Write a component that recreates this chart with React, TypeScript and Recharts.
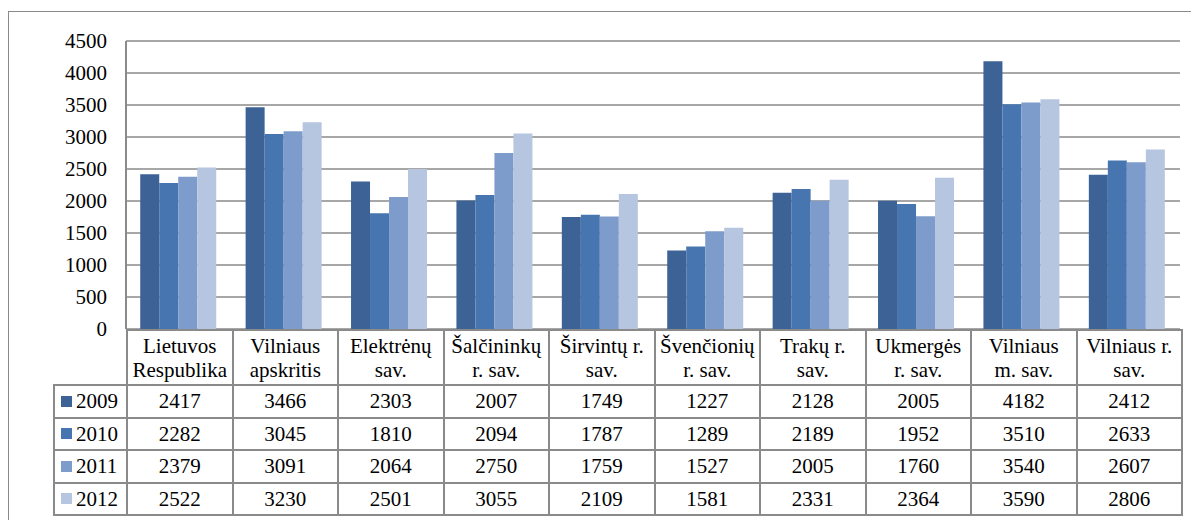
import { BarChart, Bar, XAxis, YAxis, CartesianGrid } from 'recharts';

// Kategorijos (savivaldybės) ir metų reikšmės
const categories = [
  'Lietuvos\nRespublika',
  'Vilniaus\napskritis',
  'Elektrėnų\nsav.',
  'Šalčininkų\nr. sav.',
  'Širvintų r.\nsav.',
  'Švenčionių\nr. sav.',
  'Trakų r.\nsav.',
  'Ukmergės\nr. sav.',
  'Vilniaus\nm. sav.',
  'Vilniaus r.\nsav.',
];
const years = ['2009', '2010', '2011', '2012'];
const values2009 = [2417, 3466, 2303, 2007, 1749, 1227, 2128, 2005, 4182, 2412];
const values2010 = [2282, 3045, 1810, 2094, 1787, 1289, 2189, 1952, 3510, 2633];
const values2011 = [2379, 3091, 2064, 2750, 1759, 1527, 2005, 1760, 3540, 2607];
const values2012 = [2522, 3230, 2501, 3055, 2109, 1581, 2331, 2364, 3590, 2806];
const yTicks = [0, 500, 1000, 1500, 2000, 2500, 3000, 3500, 4000, 4500];

const seriesValues = [values2009, values2010, values2011, values2012];
const COLORS = ['#3c6296', '#4675b0', '#7e9ccb', '#b6c5e0'];

const data = categories.map((name, i) => ({
  name,
  y2009: values2009[i],
  y2010: values2010[i],
  y2011: values2011[i],
  y2012: values2012[i],
}));

const FONT = 'Liberation Serif';
const GRID = '#8a8a8a';

export default function App() {
  const cellBorder = `2px solid ${GRID}`;
  return (
    <div style={{ position: 'relative', width: 1191, height: 512, overflow: 'hidden', fontFamily: FONT }}>
      {/* marco exterior */}
      <div
        style={{
          position: 'absolute',
          left: 0,
          top: 3,
          width: 1300,
          height: 600,
          border: `1.5px solid ${GRID}`,
        }}
      />
      <div style={{ position: 'absolute', left: 0, top: 0 }}>
        <BarChart
          width={1191}
          height={341}
          data={data}
          margin={{ top: 33, right: 19, bottom: 20, left: 0 }}
          barCategoryGap="13.5%"
          barGap={0}
        >
          <CartesianGrid vertical={false} stroke={GRID} strokeWidth={1.5} />
          <XAxis dataKey="name" hide />
          <YAxis
            width={118}
            domain={[0, 4500]}
            ticks={yTicks}
            interval={0}
            tickLine={false}
            tickSize={0}
            tickMargin={19}
            axisLine={{ stroke: GRID, strokeWidth: 2 }}
            tick={{ fill: '#000', fontSize: 21, fontFamily: FONT }}
          />
          {years.map((y, i) => (
            <Bar key={y} dataKey={`y${y}`} fill={COLORS[i]} isAnimationActive={false} />
          ))}
        </BarChart>
      </div>
      {/* tabla de datos */}
      <table
        style={{
          position: 'absolute',
          left: 45,
          top: 321,
          borderCollapse: 'collapse',
          tableLayout: 'fixed',
          width: 1128,
          fontSize: 21,
          fontFamily: FONT,
          color: '#000',
        }}
      >
        <colgroup>
          <col style={{ width: 73 }} />
          {categories.map((c) => (
            <col key={c} style={{ width: 105.5 }} />
          ))}
        </colgroup>
        <tbody>
          <tr style={{ height: 55 }}>
            <td style={{ border: 'none', padding: 0 }} />
            {categories.map((c) => (
              <td
                key={c}
                style={{
                  border: cellBorder,
                  textAlign: 'center',
                  whiteSpace: 'pre-line',
                  lineHeight: '24px',
                  padding: 0,
                  verticalAlign: 'middle',
                }}
              >
                {c}
              </td>
            ))}
          </tr>
          {years.map((y, i) => (
            <tr key={y} style={{ height: 32.5 }}>
              <td style={{ border: cellBorder, padding: '0 0 0 6px', whiteSpace: 'nowrap', lineHeight: '28px' }}>
                <span
                  style={{
                    display: 'inline-block',
                    width: 11,
                    height: 11,
                    background: COLORS[i],
                    marginRight: 4,
                    verticalAlign: 'middle',
                    position: 'relative',
                    top: -2,
                  }}
                />
                {y}
              </td>
              {seriesValues[i].map((v, j) => (
                <td key={j} style={{ border: cellBorder, textAlign: 'center', padding: 0, lineHeight: '28px' }}>
                  {v}
                </td>
              ))}
            </tr>
          ))}
        </tbody>
      </table>
    </div>
  );
}
